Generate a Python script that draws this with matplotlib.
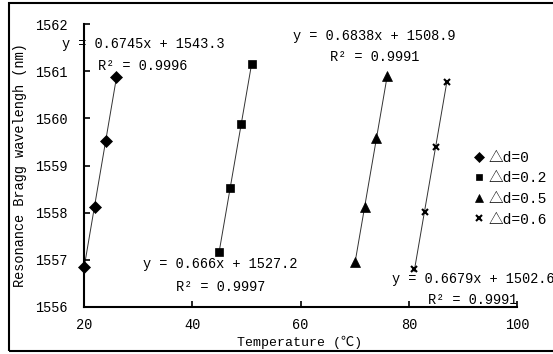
import matplotlib.pyplot as plt
import matplotlib.patches as patches
import numpy as np

plt.rcParams['font.family'] = ['Liberation Mono', 'Noto Sans CJK SC', 'DejaVu Sans']
plt.rcParams['font.size'] = 9.8

# data
t_d0 = [20, 22, 24, 26]
wl_d0 = [1556.85, 1558.13, 1559.52, 1560.88]
t_d02 = [45, 47, 49, 51]
wl_d02 = [1557.17, 1558.53, 1559.88, 1561.15]
t_d05 = [70, 72, 74, 76]
wl_d05 = [1556.95, 1558.12, 1559.58, 1560.90]
t_d06 = [81, 83, 85, 87]
wl_d06 = [1556.80, 1558.02, 1559.40, 1560.78]

series = [
    (t_d0, wl_d0, 'D', 6, '△d=0'),
    (t_d02, wl_d02, 's', 6, '△d=0.2'),
    (t_d05, wl_d05, '^', 7, '△d=0.5'),
    (t_d06, wl_d06, 'x', 5, '△d=0.6'),
]

eq_labels = ['y = 0.6745x + 1543.3', 'y = 0.666x + 1527.2',
             'y = 0.6838x + 1508.9', 'y = 0.6679x + 1502.6']
r2_labels = ['R² = 0.9996', 'R² = 0.9997', 'R² = 0.9991', 'R² = 0.9991']

W, H = 553, 354
fig = plt.figure(figsize=(W / 100, H / 100), dpi=100)
ax = fig.add_axes([84 / W, 1 - 307 / H, (517 - 84) / W, (307 - 24) / H])

for t, wl, mk, ms, lab in series:
    # linear trendline like excel
    k, b = np.polyfit(t, wl, 1)
    xs = np.array([min(t), max(t)])
    ax.plot(xs, k * xs + b, color='#333333', lw=0.7, zorder=1)
    ax.plot(t, wl, linestyle='none', marker=mk, markersize=ms, color='black',
            markeredgewidth=1.5 if mk == 'x' else 0.5, label=lab, zorder=2,
            clip_on=False)

ax.set_xlim(20, 100)
ax.set_ylim(1556, 1562)
ax.set_xticks([20, 40, 60, 80, 100])
ax.set_yticks(range(1556, 1563))
for s in ['top', 'right']:
    ax.spines[s].set_visible(False)
for s in ['left', 'bottom']:
    ax.spines[s].set_linewidth(1.5)
ax.tick_params(direction='in', length=4, width=1.2)
ax.tick_params(axis='y', pad=12)
ax.tick_params(axis='x', pad=8)

fig.text(20 / W, 1 - 165 / H, 'Resonance Bragg wavelengh (nm)', rotation=90,
         ha='center', va='center')
fig.text(300 / W, 1 - 342 / H, 'Temperature (℃)', ha='center', va='center',
         fontsize=9.5)

# trendline labels, placed like in the excel chart
eq_pos = [(62, 44), (143, 264), (293, 36), (392, 279)]
r2_pos = [(98, 66), (176, 287), (330, 57), (428, 300)]
for (x, y), s in zip(eq_pos, eq_labels):
    fig.text(x / W, 1 - y / H, s, ha='left', va='center')
for (x, y), s in zip(r2_pos, r2_labels):
    fig.text(x / W, 1 - y / H, s, ha='left', va='center')

fig.legend(loc='upper left', bbox_to_anchor=(468 / W, 1 - 145 / H),
           frameon=False, handlelength=0.7, handletextpad=0.3,
           labelspacing=0.45, borderaxespad=0, fontsize=10.5,
           markerscale=0.8)

# outer chart frame
fig.patches.append(patches.Rectangle((9 / W, 3 / H), 1.2, 1 - 6 / H,
                                     transform=fig.transFigure, fill=False,
                                     edgecolor='black', lw=1.5, clip_on=False))

fig.savefig('out.png', dpi=100)
